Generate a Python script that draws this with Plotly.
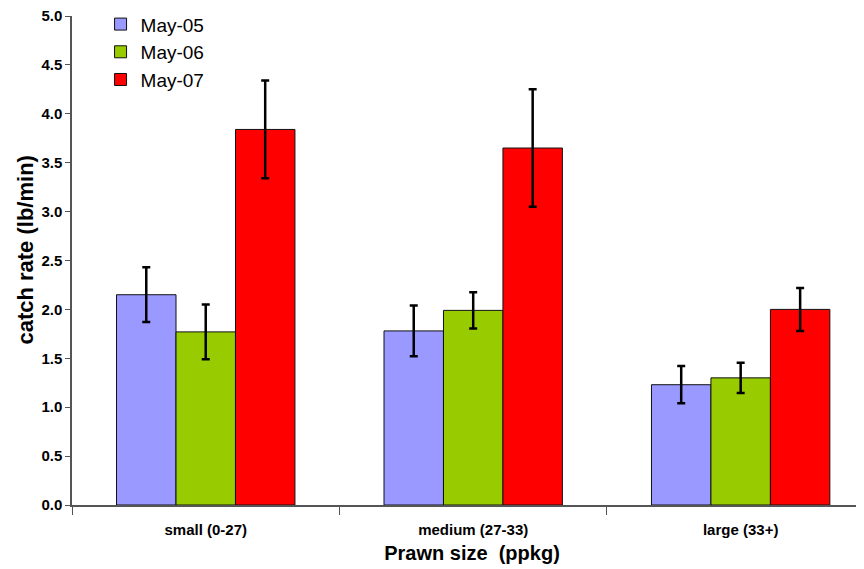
import plotly.graph_objects as go

categories = ["small (0-27)", "medium (27-33)", "large (33+)"]
series_names = ["May-05", "May-06", "May-07"]
may05 = [2.15, 1.78, 1.23]
may06 = [1.77, 1.99, 1.30]
may07 = [3.84, 3.65, 2.00]
err05 = [0.28, 0.26, 0.19]
err06 = [0.28, 0.185, 0.155]
err07 = [0.50, 0.60, 0.22]
colors = ["#9999FF", "#99CC00", "#FF0000"]
ytick_vals = [0, 0.5, 1.0, 1.5, 2.0, 2.5, 3.0, 3.5, 4.0, 4.5, 5.0]

FONT = "Arial, Liberation Sans, sans-serif"

fig = go.Figure()
for name, vals, errs, col in zip(series_names, [may05, may06, may07], [err05, err06, err07], colors):
    fig.add_trace(go.Bar(
        name=name, x=categories, y=vals,
        marker=dict(color=col, line=dict(color="#111111", width=1)),
        error_y=dict(type="data", array=errs, visible=True, color="black", thickness=2.5, width=4),
    ))

fig.add_annotation(
    text="<b>catch rate (lb/min)</b>", xref="paper", yref="paper",
    x=-0.058, y=0.5215, xanchor="center", yanchor="middle",
    textangle=-90, showarrow=False,
    font=dict(size=22, family=FONT, color="black"),
)

fig.update_layout(
    width=864, height=569,
    margin=dict(l=64, r=0, t=8, b=72, autoexpand=False),
    paper_bgcolor="white", plot_bgcolor="white",
    barmode="group", bargap=0.333, bargroupgap=0,
    font=dict(family=FONT, color="black"),
    showlegend=True,
    legend=dict(x=0.0357, y=1.022, xanchor="left", yanchor="top",
                font=dict(size=19, family=FONT, color="black"),
                bgcolor="rgba(0,0,0,0)", tracegroupgap=0),
    xaxis=dict(
        type="category", range=[-0.5, 2.491], automargin=False,
        showline=True, linecolor="#555555", linewidth=1.5,
        ticks="outside", tickson="boundaries", ticklen=8, tickcolor="#555555",
        ticklabelstandoff=10,
        tickfont=dict(size=15, family=FONT, color="black", weight="bold"),
        title=dict(text="<b>Prawn size  (ppkg)</b>", font=dict(size=20, family=FONT), standoff=9),
        showgrid=False, zeroline=False,
    ),
    yaxis=dict(
        range=[0, 5], tickvals=ytick_vals, tickformat=".1f", automargin=False,
        ticklabeloverflow="allow",
        showline=True, linecolor="#555555", linewidth=1.5,
        ticks="outside", ticklen=5, tickcolor="#555555",
        tickfont=dict(size=15, family=FONT, color="black", weight="bold"),
        showgrid=False, zeroline=False,
    ),
)

fig.write_html("out.html")
